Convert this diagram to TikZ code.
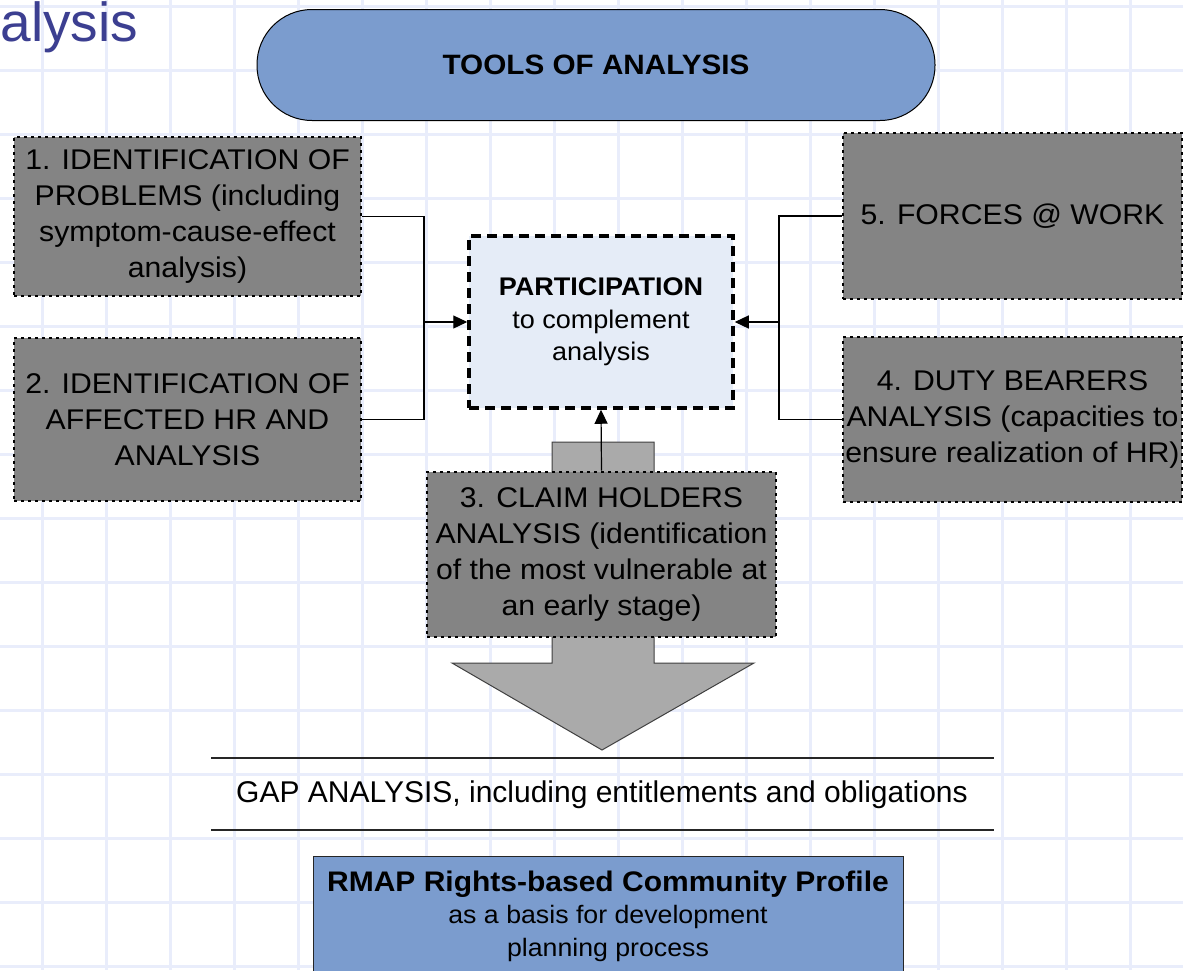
\documentclass[tikz,border=0pt]{standalone}
\usepackage{fontspec}
\setmainfont{Liberation Sans}
\newfontfamily\widefont[FakeStretch=1.06]{Liberation Sans}
\usetikzlibrary{arrows.meta}

\definecolor{gridblue}{RGB}{233,237,251}
\definecolor{pillblue}{RGB}{123,156,206}
\definecolor{boxgray}{RGB}{132,132,132}
\definecolor{arrowgray}{RGB}{170,170,170}
\definecolor{partfill}{RGB}{229,236,247}
\definecolor{titleblue}{RGB}{60,63,145}

\tikzset{
  gridline/.style={draw=gridblue, line width=3pt},
  toolbox/.style={fill=boxgray, draw=black, line width=2.8pt,
    dash pattern=on 2.8pt off 4.2pt, minimum width=347pt, inner sep=0pt,
    align=center, text=black, font=\widefont\fontsize{28.5}{36}\selectfont},
  conn/.style={draw=black, line width=1.2pt},
  tip/.style={-{Triangle[length=14pt,width=13pt]}},
}

\begin{document}
\begin{tikzpicture}[x=1pt,y=-1pt]
\useasboundingbox (0,0) rectangle (1183,970);
\clip (0,0) rectangle (1183,970);
\fill[white] (0,0) rectangle (1183,970);

% background grid
\foreach \gx in {42,106,...,1130} \draw[gridline] (\gx,0) -- (\gx,970);
\foreach \gy in {6,70,...,966} \draw[gridline] (0,\gy) -- (1183,\gy);

% heading fragment
\node[anchor=base west, inner sep=0pt, text=titleblue,
      font=\fontsize{55}{60}\selectfont] (title) at (0.5,41.5) {alysis};

% top banner
\node[draw=black, line width=1pt, fill=pillblue, rounded corners=55pt,
      minimum width=678pt, minimum height=111pt,
      font=\widefont\bfseries\fontsize{28}{34}\selectfont] (tools) at (596,65)
      {TOOLS OF ANALYSIS};

% broad downward arrow behind box 3
\draw[draw=black!75, line width=1pt, fill=arrowgray]
  (552,442) -- (654,442) -- (654,663) -- (754,663) -- (602,750)
  -- (452,663) -- (552,663) -- cycle;

% central box
\node[draw=black, fill=partfill, line width=3.5pt, dash pattern=on 10pt off 6pt,
      minimum width=264pt, minimum height=172pt, align=center,
      font=\widefont\fontsize{25.5}{32.5}\selectfont] (part) at (601,322)
      {{\bfseries PARTICIPATION}\\to complement\\analysis};

% analysis tools
\node[toolbox, minimum height=159pt] (b1) at (187.5,216.5)
  {1. IDENTIFICATION OF\\PROBLEMS (including\\symptom-cause-effect\\analysis)};
\node[toolbox, minimum height=163pt] (b2) at (187.5,419.5)
  {2. IDENTIFICATION OF\\AFFECTED HR AND\\ANALYSIS};
\node[toolbox, minimum width=349pt, minimum height=165pt] (b3) at (601.5,554.5)
  {3. CLAIM HOLDERS\\ANALYSIS (identification\\of the most vulnerable at\\an early stage)};
\node[toolbox, minimum width=339pt, minimum height=165pt] (b4) at (1012.5,419.5)
  {4. DUTY BEARERS\\ANALYSIS (capacities to\\ensure realization of HR)};
\node[toolbox, minimum width=339pt, minimum height=166pt] (b5) at (1012.5,216)
  {5. FORCES @ WORK};

% connectors
\coordinate (jl) at (424,322);
\coordinate (jr) at (779,322);
\draw[conn] (b1.east) -| (jl);
\draw[conn] (b2.east) -| (jl);
\draw[conn, tip] (jl) -- (part.west);
\draw[conn] (b5.west) -| (jr);
\draw[conn] (b4.west) -| (jr);
\draw[conn, tip] (jr) -- (part.east);
\draw[conn, tip] (b3.north) -- (part.south);

% gap analysis band
\node[font=\fontsize{30}{36}\selectfont] (gap) at (602,795)
  {GAP ANALYSIS, including entitlements and obligations};
\draw[draw=black!85, line width=1.3pt] (211,758) -- (994,758);
\draw[draw=black!85, line width=1.3pt] (211,830) -- (994,830);

% result box
\node[draw=black!85, line width=1pt, fill=pillblue, minimum width=590pt,
      minimum height=120pt, align=center,
      font=\widefont\fontsize{25.2}{32.5}\selectfont] (rmap) at (608,916)
  {{\bfseries\fontsize{28.3}{32.5}\selectfont RMAP Rights-based Community Profile}\\
   as a basis for development\\planning process};
\end{tikzpicture}
\end{document}
